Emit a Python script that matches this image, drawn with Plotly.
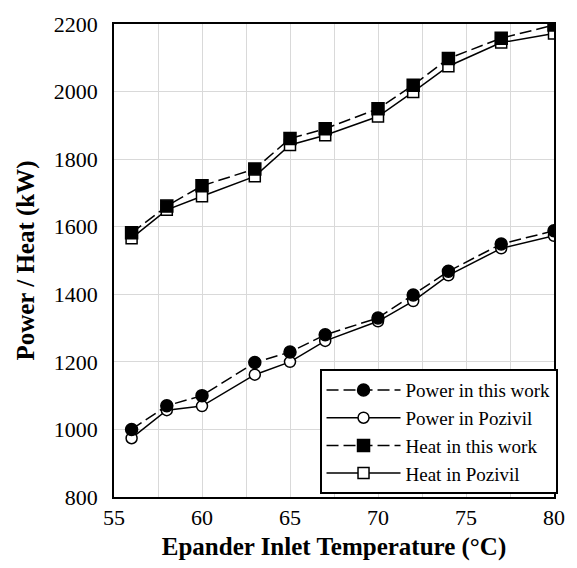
import plotly.graph_objects as go

temps = [56, 58, 60, 63, 65, 67, 70, 72, 74, 77, 80]
power_this_work = [1000, 1070, 1100, 1198, 1229, 1280, 1330, 1398, 1468, 1549, 1588]
power_pozivil = [974, 1057, 1069, 1162, 1200, 1262, 1320, 1380, 1456, 1536, 1573]
heat_this_work = [1582, 1661, 1721, 1771, 1861, 1890, 1949, 2019, 2098, 2158, 2197]
heat_pozivil = [1566, 1650, 1690, 1749, 1842, 1871, 1926, 1999, 2075, 2145, 2172]

FONT = "Liberation Serif, Times New Roman, serif"

fig = go.Figure()

def add(name, y, symbol, filled, dashed, rank):
    fig.add_trace(go.Scatter(
        x=temps, y=y, name=name, mode="lines+markers",
        line=dict(color="black", width=1.5, dash="12px,5px" if dashed else "solid"),
        marker=dict(symbol=symbol, size=12 if filled else 11,
                    color="black" if filled else "white",
                    line=dict(color="black", width=1.5)),
        legendrank=rank,
    ))

add("Power in Pozivil", power_pozivil, "circle", False, False, 2)
add("Heat in Pozivil", heat_pozivil, "square", False, False, 4)
add("Power in this work", power_this_work, "circle", True, True, 1)
add("Heat in this work", heat_this_work, "square", True, True, 3)

fig.update_layout(
    width=577, height=568,
    margin=dict(l=114, r=18, t=19, b=70),
    plot_bgcolor="white", paper_bgcolor="white",
    font=dict(family=FONT, color="black", size=19),
    showlegend=True,
    legend=dict(
        x=1.008, y=0.006, xanchor="right", yanchor="bottom",
        bgcolor="white", bordercolor="black", borderwidth=2,
        font=dict(family=FONT, size=19, color="black"),
        itemwidth=74, tracegroupgap=0,
    ),
)
fig.update_xaxes(
    range=[55, 80], dtick=5, tick0=55,
    showgrid=True, gridcolor="#d9d9d9", gridwidth=1,
    minor=dict(dtick=2.5, showgrid=True, gridcolor="#d9d9d9", gridwidth=1),
    showline=True, mirror=True, linecolor="black", linewidth=1.5,
    ticks="", zeroline=False,
    tickfont=dict(family=FONT, size=22),
    title=dict(text="<b>Epander Inlet Temperature (°C)</b>", font=dict(family=FONT, size=25), standoff=8),
)
fig.update_yaxes(
    range=[800, 2200], dtick=200,
    showgrid=True, gridcolor="#d9d9d9", gridwidth=1,
    showline=True, mirror=True, linecolor="black", linewidth=1.5,
    ticks="", zeroline=False, ticklabelstandoff=10,
    tickfont=dict(family=FONT, size=22),
    title=dict(text="<b>Power / Heat (kW)</b>", font=dict(family=FONT, size=25), standoff=12),
)

fig.write_html("out.html")
